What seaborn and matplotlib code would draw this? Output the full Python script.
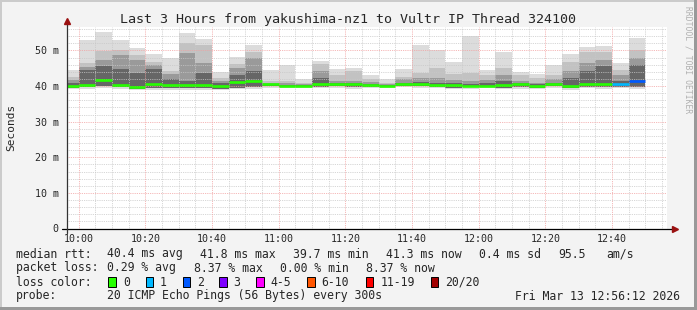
import matplotlib
matplotlib.use("Agg")
import matplotlib.pyplot as plt
import seaborn as sns
import pandas as pd
from matplotlib.patches import Rectangle
from matplotlib.lines import Line2D

# ---------------- data ----------------
bar_times = ["09:55", "10:00", "10:05", "10:10", "10:15", "10:20", "10:25", "10:30",
             "10:35", "10:40", "10:45", "10:50", "10:55", "11:00", "11:05", "11:10",
             "11:15", "11:20", "11:25", "11:30", "11:35", "11:40", "11:45", "11:50",
             "11:55", "12:00", "12:05", "12:10", "12:15", "12:20", "12:25", "12:30",
             "12:35", "12:40", "12:45"]
# ping spread per 5-minute step (ms)
ping_max = [44.4, 52.9, 55.1, 52.9, 50.6, 49.0, 47.9, 54.9, 53.1, 43.9, 48.3, 51.6,
            44.4, 46.0, 42.1, 47.1, 44.7, 45.1, 43.0, 42.0, 44.8, 51.6, 50.0, 46.8,
            54.1, 44.4, 49.5, 43.9, 43.4, 46.0, 49.0, 50.9, 51.3, 46.5, 53.4]
band2_hi = [42.5, 46.5, 49.9, 50.2, 48.8, 46.7, 44.2, 52.0, 51.6, 42.3, 46.2, 49.7,
            41.4, 41.4, 41.0, 46.2, 43.2, 44.2, 41.9, 41.0, 42.6, 43.7, 45.1, 43.5,
            43.7, 43.1, 45.1, 43.2, 42.3, 43.2, 46.9, 49.7, 49.7, 44.6, 50.2]
band3_hi = [41.8, 45.3, 47.4, 48.6, 47.4, 45.8, 43.5, 49.3, 46.5, 41.5, 45.1, 47.9,
            41.0, 40.8, 40.6, 44.2, 41.5, 41.5, 41.2, 40.5, 41.9, 42.3, 42.3, 41.8,
            41.4, 41.8, 43.2, 41.5, 41.0, 41.9, 44.2, 46.5, 47.4, 43.2, 47.9]
band4_hi = [40.9, 44.4, 45.6, 44.9, 43.7, 44.9, 42.1, 41.5, 43.7, 40.8, 43.2, 44.2,
            40.7, 40.4, 40.4, 42.3, 41.0, 41.0, 40.7, 40.2, 41.0, 41.2, 41.0, 41.0,
            40.6, 40.8, 41.5, 40.9, 40.5, 40.9, 42.3, 44.2, 45.6, 41.5, 45.8]
inner_lo = [39.6, 39.8, 40.0, 39.8, 39.3, 39.6, 39.4, 39.4, 39.5, 39.3, 39.6, 39.7,
            39.9, 39.8, 39.8, 39.8, 39.9, 39.8, 39.8, 39.7, 40.0, 39.9, 39.8, 39.6,
            39.7, 39.7, 39.6, 39.7, 39.6, 39.9, 39.4, 39.8, 39.8, 39.8, 39.8]
ping_min = [39.3, 39.3, 39.5, 39.3, 39.0, 39.0, 38.8, 38.8, 38.8, 38.8, 39.1, 39.1,
            39.5, 39.5, 39.5, 39.4, 39.5, 39.3, 39.4, 39.4, 39.7, 39.5, 39.4, 39.1,
            39.3, 39.4, 39.1, 39.3, 39.3, 39.5, 39.0, 39.4, 39.3, 39.4, 39.3]
median_rtt = [40.0, 40.4, 41.8, 40.4, 39.7, 40.7, 40.4, 40.4, 40.4, 39.9, 41.1, 41.4,
              40.5, 40.1, 40.1, 40.5, 40.7, 40.5, 40.3, 39.9, 40.5, 40.5, 40.4, 40.2,
              40.1, 40.0, 40.3, 40.5, 39.9, 40.5, 39.9, 40.5, 40.7, 40.5, 41.3]
lost_pings = [0, 0, 0, 0, 0, 0, 0, 0, 0, 0, 0, 0, 0, 0, 0, 0, 0, 0, 0, 0, 0, 0, 0, 0,
              0, 0, 0, 0, 0, 0, 0, 0, 0, 1, 2]

x_tick_labels = ["10:00", "10:20", "10:40", "11:00", "11:20", "11:40", "12:00", "12:20", "12:40"]
y_tick_labels = ["0", "10 m", "20 m", "30 m", "40 m", "50 m"]

loss_names = ["0", "1", "2", "3", "4-5", "6-10", "11-19", "20/20"]
loss_colors = ["#26ff00", "#00b8ff", "#0059ff", "#7e00ff", "#ff00ff", "#ff5500", "#ff0000", "#a10000"]

# ---------------- build table ----------------
def to_min(t):
    h, m = t.split(":")
    return (int(h) - 10) * 60 + int(m)

df = pd.DataFrame({
    "start": [to_min(t) for t in bar_times],
    "pmax": ping_max, "b2": band2_hi, "b3": band3_hi, "b4": band4_hi,
    "ilo": inner_lo, "pmin": ping_min, "med": median_rtt, "loss": lost_pings,
})
df["loss_color"] = [loss_colors[min(l, 3)] for l in df["loss"]]

W, H = 697, 310
sns.set_style("white")
plt.rcParams["font.family"] = ["DejaVu Sans Mono"]

fig = plt.figure(figsize=(W / 100, H / 100), dpi=100)
fig.patch.set_facecolor("#f3f3f3")

L, R, T, B = 67, 667, 27, 228.5
ax = fig.add_axes([L / W, (H - B) / H, (R - L) / W, (B - T) / H])
ax.set_facecolor("white")
ax.set_xlim(-3.5, 176.5)
ax.set_ylim(0, 56.6)

# smoke bands
bands = [("pmin", "pmax", "#dcdcdc"), ("ilo", "b2", "#c2c2c2"),
         ("ilo", "b3", "#9a9a9a"), ("ilo", "b4", "#666666")]
for lo, hi, c in bands:
    ax.bar(df["start"], df[hi] - df[lo], bottom=df[lo], width=5, align="edge",
           color=c, linewidth=0, zorder=2)

# grid (drawn over the smoke like rrdtool)
for v in range(2, 57, 2):
    if v % 10:
        ax.axhline(v, color="#c8c8c8", lw=0.6, ls=(0, (1, 1.2)), zorder=3)
for v in range(0, 177, 5):
    if v % 20:
        ax.axvline(v, color="#c8c8c8", lw=0.6, ls=(0, (1, 1.2)), zorder=3)
for v in range(10, 57, 10):
    ax.axhline(v, color="#f2a0a0", lw=0.6, ls=(0, (1, 1.2)), zorder=3)
for v in range(0, 177, 20):
    ax.axvline(v, color="#f2a0a0", lw=0.6, ls=(0, (1, 1.2)), zorder=3)

# median line coloured by loss
ax.hlines(df["med"], df["start"], df["start"] + 5, colors=df["loss_color"],
          lw=1.9, zorder=4)

# ticks
ax.set_xticks(range(0, 161, 20))
ax.set_xticklabels(x_tick_labels)
ax.set_xticks(range(0, 176, 5), minor=True)
ax.set_yticks(range(0, 51, 10))
ax.set_yticklabels(y_tick_labels)
ax.tick_params(axis="x", which="major", length=2.5, width=0.7, color="#f08080",
               pad=1.5, labelsize=7.2, direction="out")
ax.tick_params(axis="x", which="minor", length=1.5, width=0.6, color="#bbbbbb")
ax.tick_params(axis="y", length=2, width=0.7, color="#555555", pad=4, labelsize=7.2)
for s in ax.spines.values():
    s.set_visible(False)

# axes lines with arrows
ax.add_line(Line2D([-5.0, 178.5], [0, 0], color="black", lw=0.9, clip_on=False, zorder=5))
ax.add_line(Line2D([-3.5, -3.5], [-1.3, 57.6], color="#333333", lw=0.9, clip_on=False, zorder=5))
ax.plot([179.0], [0], marker=">", color="#9a1010", ms=4.5, clip_on=False, zorder=6)
ax.plot([-3.5], [58.3], marker="^", color="#9a1010", ms=4.5, clip_on=False, zorder=6)

ax.set_ylabel("Seconds", fontsize=8)
ax.yaxis.set_label_coords(-(67 - 16) / 600, 0.5)

# title and side text
fig.text(348 / W, 1 - 19 / H, "Last 3 Hours from yakushima-nz1 to Vultr IP Thread 324100",
         ha="center", va="center", fontsize=9.6)
fig.text(688 / W, 1 - 60 / H, "RRDTOOL / TOBI OETIKER", rotation=270, ha="center",
         va="center", fontsize=5.8, color="#b0b0b0")

def ftext(x, y, s, **kw):
    fig.text(x / W, 1 - y / H, s, va="center", fontsize=8.3, **kw)

ftext(16, 254, "median rtt:")
ftext(107.3, 254, "40.4 ms avg")
ftext(200, 254, "41.8 ms max")
ftext(293.3, 254, "39.7 ms min")
ftext(386, 254, "41.3 ms now")
ftext(479.3, 254, "0.4 ms sd")
ftext(558.3, 254, "95.5")
ftext(606.7, 254, "am/s")

ftext(16, 268, "packet loss:")
ftext(107.3, 268, "0.29 % avg")
ftext(193.8, 268, "8.37 % max")
ftext(280.3, 268, "0.00 % min")
ftext(366, 268, "8.37 % now")

ftext(16, 282, "loss color:")
box_x = [108.3, 145.7, 182.7, 219.3, 256, 307.3, 365.7, 430.7]
lab_x = [123.3, 160, 196.7, 233.3, 270, 321.7, 380.7, 445]
for bx, lx, name, col in zip(box_x, lab_x, loss_names, loss_colors):
    fig.patches.append(Rectangle((bx / W, 1 - 287 / H), 7.5 / W, 10 / H,
                                 transform=fig.transFigure, facecolor=col,
                                 edgecolor="black", lw=0.7))
    ftext(lx, 282, name)

ftext(16, 296, "probe:")
ftext(107.3, 296, "20 ICMP Echo Pings (56 Bytes) every 300s")
ftext(680, 296, "Fri Mar 13 12:56:12 2026", ha="right")

# frame shading
fig.patches.append(Rectangle((0, 0), 2 / W, 1, transform=fig.transFigure, facecolor="#cbcbcb", lw=0))
fig.patches.append(Rectangle((0, 1 - 2 / H), 1, 2 / H, transform=fig.transFigure, facecolor="#cbcbcb", lw=0))
fig.patches.append(Rectangle((1 - 3 / W, 0), 3 / W, 1, transform=fig.transFigure, facecolor="#999999", lw=0))
fig.patches.append(Rectangle((0, 0), 1, 3 / H, transform=fig.transFigure, facecolor="#999999", lw=0))

fig.savefig("out.png", dpi=100, facecolor=fig.get_facecolor())
